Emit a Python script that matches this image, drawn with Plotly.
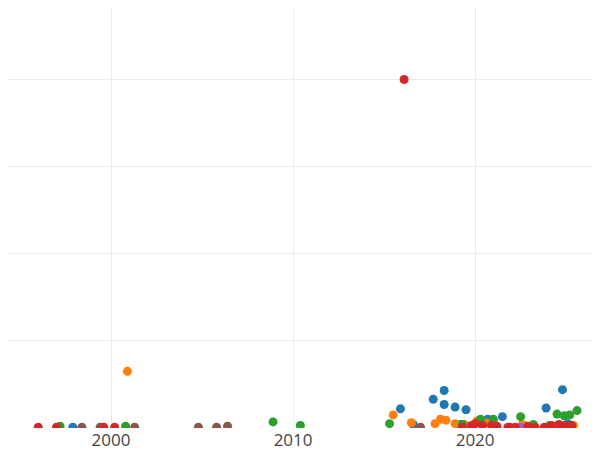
import plotly.graph_objects as go

# decimal years and values (grid step = 1 unit)
blue_x = [1997.9, 2015.9, 2016.6, 2017.7, 2018.3, 2018.3, 2018.9, 2019.2, 2019.5, 2020.7, 2021.5, 2022.8, 2023.9, 2024.8, 2025.1]
blue_y = [0.01, 0.22, 0.04, 0.33, 0.43, 0.27, 0.24, 0.04, 0.21, 0.10, 0.13, 0.02, 0.23, 0.44, 0.05]

orange_x = [2000.9, 2015.5, 2016.5, 2017.8, 2018.1, 2018.4, 2018.9, 2019.4, 2020.1, 2020.6, 2021.0, 2022.6, 2025.4]
orange_y = [0.65, 0.15, 0.06, 0.05, 0.10, 0.09, 0.05, 0.04, 0.08, 0.06, 0.05, 0.04, 0.03]

green_x = [1997.2, 2000.8, 2008.9, 2010.4, 2015.3, 2019.3, 2020.3, 2021.0, 2022.5, 2023.2, 2024.1, 2024.5, 2024.9, 2025.2, 2025.6]
green_y = [0.02, 0.02, 0.07, 0.03, 0.05, 0.04, 0.10, 0.10, 0.13, 0.04, 0.03, 0.16, 0.14, 0.15, 0.20]

red_x = [1996.0, 1997.0, 1999.6, 2000.2, 2016.1, 2019.3, 2019.8, 2020.0, 2020.4, 2020.9, 2021.2, 2021.8, 2022.2, 2022.9, 2023.3, 2023.8, 2024.2, 2024.6, 2024.9, 2025.3]
red_y = [0.01, 0.01, 0.01, 0.01, 4.0, 0.01, 0.03, 0.05, 0.03, 0.03, 0.02, 0.01, 0.01, 0.02, 0.01, 0.01, 0.03, 0.04, 0.03, 0.03]

purple_x = [2022.5]
purple_y = [0.01]

brown_x = [1998.4, 1999.4, 2001.3, 2004.8, 2005.8, 2006.4, 2017.0, 2021.9]
brown_y = [0.01, 0.01, 0.01, 0.01, 0.01, 0.02, 0.01, 0.01]

series = [
    (blue_x, blue_y, "#1f77b4"),
    (orange_x, orange_y, "#ff7f0e"),
    (green_x, green_y, "#2ca02c"),
    (brown_x, brown_y, "#8c564b"),
    (purple_x, purple_y, "#9467bd"),
    (red_x, red_y, "#d62728"),
]

fig = go.Figure()
for xs, ys, color in series:
    fig.add_trace(go.Scatter(x=xs, y=ys, mode="markers",
                             marker=dict(color=color, size=9), showlegend=False))

fig.update_layout(
    template="plotly_white",
    width=600, height=450,
    margin=dict(l=0, r=0, t=0, b=30),
    font=dict(family="Open Sans", size=17, color="#444"),
)
fig.update_xaxes(range=[1994.34, 2027.3], tickvals=[2000, 2010, 2020], showgrid=True,
                 gridcolor="#ebebeb", ticklen=0)
fig.update_yaxes(range=[0, 4.82], dtick=1, showticklabels=False, zeroline=False, gridcolor="#ebebeb")

fig.write_html("out.html")
